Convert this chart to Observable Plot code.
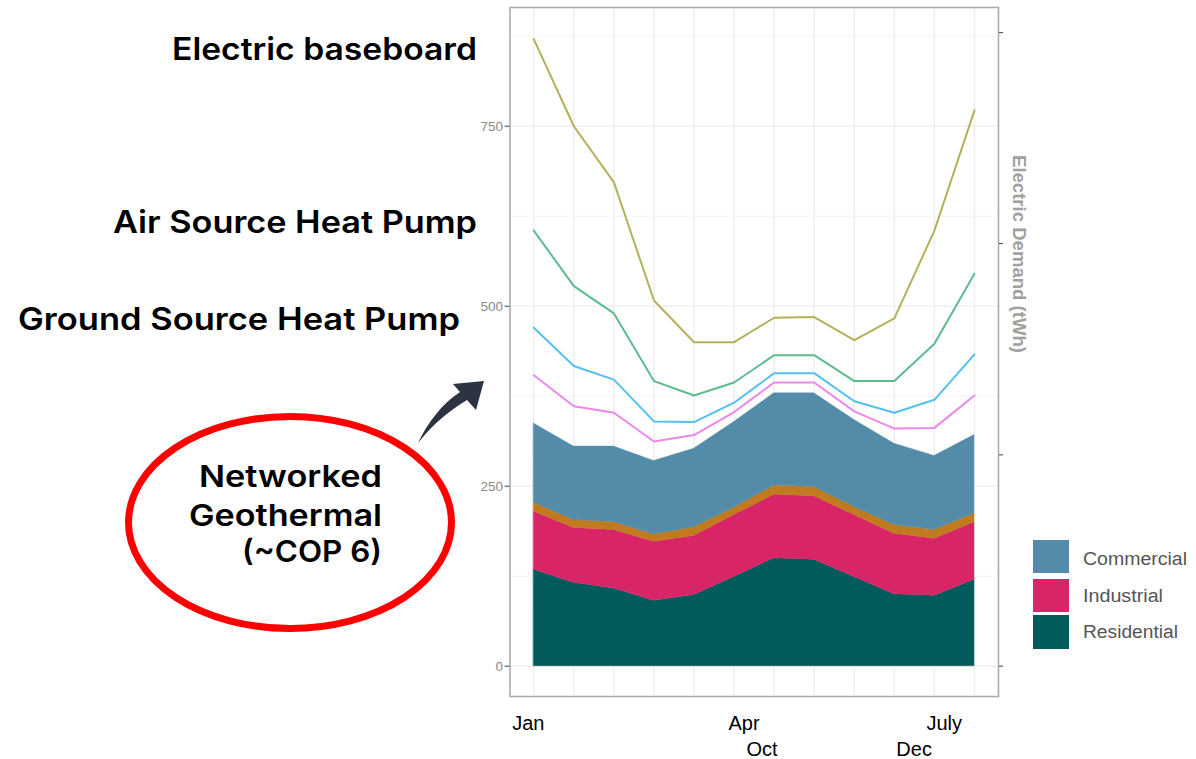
<!DOCTYPE html>
<html>
<head>
<meta charset="utf-8">
<script src="https://cdn.jsdelivr.net/npm/d3@7"></script>
<script src="https://cdn.jsdelivr.net/npm/@observablehq/plot@0.6"></script>
<style>
  html, body { margin: 0; padding: 0; background: #fff; }
  #chart { position: relative; width: 1196px; height: 759px; overflow: hidden; }
</style>
</head>
<body>
<div id="chart"></div>
<script>
// ---------- data ----------
const months = [1, 2, 3, 4, 5, 6, 7, 8, 9, 10, 11, 12];

// stacked sector demand (tWh)
const residential = [134, 116, 108, 91, 99, 124, 150, 148, 124, 100, 98, 120];
const industrial  = [81, 76, 81, 82, 82, 86, 88, 88, 86, 84, 79, 80];
const other       = [12, 11, 11, 10, 12, 10, 13, 13, 11, 12, 12, 12];
const commercial  = [110, 102, 105, 102, 109, 119, 128, 130, 121, 113, 103, 109];

// heating-technology demand lines (tWh)
const electricBaseboard = [871, 750, 672, 508, 450, 450, 484, 485, 453, 483, 605, 772];
const airSourceHP       = [605, 528, 490, 396, 376, 394, 432, 432, 396, 396, 448, 545];
const groundSourceHP    = [470, 417, 398, 340, 339, 366, 407, 407, 368, 352, 370, 433];
const networkedGeo      = [404, 361, 352, 312, 321, 353, 394, 394, 354, 330, 331, 376];

const sectors = ["Residential", "Industrial", "Other", "Commercial"];
const sectorColors = ["#035a5b", "#d72567", "#c17a1d", "#538ba9"];
const legendSectors = ["Commercial", "Industrial", "Residential"];

const techs = ["Electric baseboard", "Air Source Heat Pump", "Ground Source Heat Pump", "Networked Geothermal"];
const techColors = ["#b4b15a", "#5dbc8d", "#55c0ef", "#ec88ec"];

const yMajor = [0, 250, 500, 750];
const yMinor = [125, 375, 625, 875];
const yRightTicks = [0, 293.5, 587, 880];

const xTickLabels = ["Jan", "Apr", "July", "Oct", "Dec"];
const xTickAt     = [0.46, 5.86, 10.8, 6.31, 10.05];
const xTickRow    = [0, 0, 0, 1, 1];

const rightTitle = "Electric Demand (tWh)";

// ---------- tables ----------
const sectorSeries = [residential, industrial, other, commercial];
const stackRows = [];
sectors.forEach((s, k) => months.forEach((m, i) => stackRows.push({month: m, sector: s, value: sectorSeries[k][i]})));

const techSeries = [electricBaseboard, airSourceHP, groundSourceHP, networkedGeo];
const lineRows = [];
techs.forEach((t, k) => months.forEach((m, i) => lineRows.push({month: m, tech: t, value: techSeries[k][i]})));

const xTicks = xTickLabels.map((label, i) => ({label, x: xTickAt[i], row: xTickRow[i]}));

// ---------- chart ----------
const chart = Plot.plot({
  width: 1196,
  height: 759,
  marginLeft: 509.5,
  marginRight: 198,
  marginTop: 7,
  marginBottom: 63,
  style: {fontFamily: "'Liberation Sans', Arial, sans-serif", background: "#fff", overflow: "visible"},
  x: {domain: [0.406, 12.6], axis: null},
  y: {domain: [-42.1, 914.9]},
  color: {domain: [...sectors, ...techs], range: [...sectorColors, ...techColors]},
  marks: [
    Plot.gridY(yMinor, {stroke: "#f1f1f1", strokeOpacity: 1, strokeWidth: 0.8}),
    Plot.gridY(yMajor, {stroke: "#ebebeb", strokeOpacity: 1, strokeWidth: 1.2}),
    Plot.gridX(months, {stroke: "#ebebeb", strokeOpacity: 1, strokeWidth: 1.2}),
    Plot.areaY(stackRows, {x: "month", y: "value", fill: "sector", stroke: "sector", strokeWidth: 0.4, order: sectors, curve: "linear"}),
    Plot.lineY(lineRows, {x: "month", y: "value", z: "tech", stroke: "tech", strokeWidth: 2}),
    Plot.frame({stroke: "#a8a8a8", strokeWidth: 1.5}),
    Plot.axisY({ticks: yMajor, anchor: "left", tickSize: 5, tickPadding: 2, fontSize: 13.5, label: null}),
    Plot.axisY({ticks: yRightTicks, anchor: "right", tickSize: 4, tickFormat: () => "", label: null}),
    Plot.text(xTicks.filter(d => d.row === 0), {x: "x", text: "label", frameAnchor: "bottom", dy: 33, lineAnchor: "bottom", textAnchor: "start", fontSize: 20, fill: "#000"}),
    Plot.text(xTicks.filter(d => d.row === 1), {x: "x", text: "label", frameAnchor: "bottom", dy: 59, lineAnchor: "bottom", textAnchor: "start", fontSize: 20, fill: "#000"})
  ]
});
document.getElementById("chart").appendChild(chart);

const svg = d3.select(chart);
svg.selectAll('[aria-label="y-axis tick"]').attr("stroke", "#444");
svg.selectAll('[aria-label="y-axis tick label"]').attr("fill", "#8a8a8a");

// right axis title
svg.append("text")
  .attr("transform", "translate(1013,254) rotate(90)")
  .attr("text-anchor", "middle")
  .attr("font-family", "'Liberation Sans', Arial, sans-serif")
  .attr("font-weight", 700)
  .attr("font-size", 18.5)
  .attr("fill", "#a0a0a0")
  .attr("textLength", 198)
  .attr("lengthAdjust", "spacingAndGlyphs")
  .text(rightTitle);

// legend
const legendBox = [[1033, 540, 36, 33], [1033, 579, 36, 33], [1033, 615, 36, 34]];
const legendText = [[1083, 565, 104], [1083, 602, 80], [1083, 638, 95]];
const lg = svg.append("g").attr("font-family", "'Liberation Sans', Arial, sans-serif");
legendSectors.forEach((s, i) => {
  const [x, y, w, h] = legendBox[i];
  lg.append("rect").attr("x", x).attr("y", y).attr("width", w).attr("height", h)
    .attr("fill", sectorColors[sectors.indexOf(s)]);
  const [tx, ty, tl] = legendText[i];
  lg.append("text").attr("x", tx).attr("y", ty).attr("text-anchor", "start")
    .attr("font-size", 18).attr("fill", "#555")
    .attr("textLength", tl).attr("lengthAdjust", "spacingAndGlyphs").text(s);
});

// annotations
const annotations = [
  {text: "Electric baseboard", x: 477, y: 59.5, len: 305, size: 31},
  {text: "Air Source Heat Pump", x: 477, y: 233, len: 364, size: 31},
  {text: "Ground Source Heat Pump", x: 460, y: 330, len: 442, size: 31},
  {text: "Networked", x: 382, y: 487, len: 183, size: 30},
  {text: "Geothermal", x: 382, y: 526, len: 193, size: 30},
  {text: "(~COP 6)", x: 382, y: 562, len: 140, size: 30}
];
const ag = svg.append("g").attr("font-family", "Inter, 'Open Sans', sans-serif").attr("font-weight", 600).attr("fill", "#000");
annotations.forEach(a => {
  ag.append("text").attr("x", a.x).attr("y", a.y).attr("text-anchor", "end")
    .attr("font-size", a.size).attr("textLength", a.len).attr("lengthAdjust", "spacingAndGlyphs")
    .text(a.text);
});

// red ellipse around the networked geothermal label
svg.append("ellipse").attr("cx", 290).attr("cy", 522.5).attr("rx", 161.5).attr("ry", 106)
  .attr("fill", "none").attr("stroke", "#ff0000").attr("stroke-width", 7);

// curved arrow pointing at the chart
svg.append("path")
  .attr("d", "M418,443 C428,422 442,404 460,392 L453,384 L484,381 L476,410 L467,400 C450,410 432,425 418,443 Z")
  .attr("fill", "#2b3440");
</script>
</body>
</html>
